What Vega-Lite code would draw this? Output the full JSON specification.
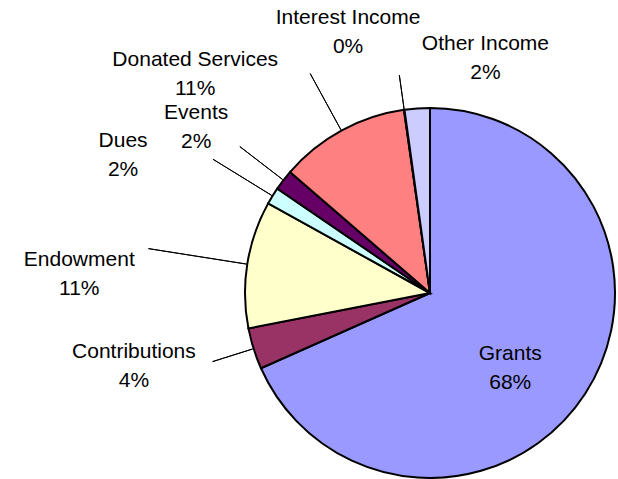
{
  "$schema": "https://vega.github.io/schema/vega-lite/v6.json",
  "autosize": {"type": "none"},
  "width": 376,
  "height": 372,
  "padding": {"left": 242, "top": 107, "right": 0, "bottom": 0},
  "background": "white",
  "config": {
    "view": {"stroke": null},
    "text": {"font": "Liberation Sans", "fontSize": 21, "lineHeight": 29, "align": "center", "baseline": "middle", "lineBreak": "\n", "color": "black"}
  },
  "data": {
    "values": [
      {"order": 1, "name": "Grants", "value": 68.3, "label": "Grants\n68%"},
      {"order": 2, "name": "Contributions", "value": 3.6, "label": "Contributions\n4%"},
      {"order": 3, "name": "Endowment", "value": 11.1, "label": "Endowment\n11%"},
      {"order": 4, "name": "Dues", "value": 1.5, "label": "Dues\n2%"},
      {"order": 5, "name": "Events", "value": 1.8, "label": "Events\n2%"},
      {"order": 6, "name": "Donated Services", "value": 11.4, "label": "Donated Services\n11%"},
      {"order": 7, "name": "Interest Income", "value": 0.05, "label": "Interest Income\n0%"},
      {"order": 8, "name": "Other Income", "value": 2.2, "label": "Other Income\n2%"}
    ]
  },
  "transform": [
    {"stack": "value", "groupby": [], "sort": [{"field": "order", "order": "ascending"}], "as": ["v0", "v1"], "offset": "normalize"},
    {"calculate": "(datum.v0 + datum.v1) / 2", "as": "mid"}
  ],
  "layer": [
    {
      "mark": {"type": "arc", "radius": 185, "stroke": "black", "strokeWidth": 2},
      "encoding": {
        "theta": {"field": "v0", "type": "quantitative", "scale": {"domain": [0, 1]}},
        "theta2": {"field": "v1"},
        "color": {
          "field": "name", "type": "nominal", "legend": null,
          "scale": {
            "domain": ["Grants", "Contributions", "Endowment", "Dues", "Events", "Donated Services", "Interest Income", "Other Income"],
            "range": ["#9999FF", "#993366", "#FFFFCC", "#CCFFFF", "#660066", "#FF8080", "#0066CC", "#CCCCFF"]
          }
        }
      }
    },
    {"transform": [{"filter": "datum.name === 'Contributions'"}], "mark": {"type": "arc", "radius": 186, "radius2": 228, "stroke": "black", "strokeWidth": 1, "fill": "transparent"}, "encoding": {"theta": {"field": "mid", "type": "quantitative"}, "theta2": {"field": "mid"}}},
    {"transform": [{"filter": "datum.name === 'Endowment'"}], "mark": {"type": "arc", "radius": 186, "radius2": 285, "stroke": "black", "strokeWidth": 1, "fill": "transparent"}, "encoding": {"theta": {"field": "mid", "type": "quantitative"}, "theta2": {"field": "mid"}}},
    {"transform": [{"filter": "datum.name === 'Dues'"}], "mark": {"type": "arc", "radius": 186, "radius2": 255, "stroke": "black", "strokeWidth": 1, "fill": "transparent"}, "encoding": {"theta": {"field": "mid", "type": "quantitative"}, "theta2": {"field": "mid"}}},
    {"transform": [{"filter": "datum.name === 'Events'"}], "mark": {"type": "arc", "radius": 186, "radius2": 240, "stroke": "black", "strokeWidth": 1, "fill": "transparent"}, "encoding": {"theta": {"field": "mid", "type": "quantitative"}, "theta2": {"field": "mid"}}},
    {"transform": [{"filter": "datum.name === 'Donated Services'"}], "mark": {"type": "arc", "radius": 186, "radius2": 250, "stroke": "black", "strokeWidth": 1, "fill": "transparent"}, "encoding": {"theta": {"field": "mid", "type": "quantitative"}, "theta2": {"field": "mid"}}},
    {"transform": [{"filter": "datum.name === 'Interest Income'"}], "mark": {"type": "arc", "radius": 186, "radius2": 220, "stroke": "black", "strokeWidth": 1, "fill": "transparent"}, "encoding": {"theta": {"field": "mid", "type": "quantitative"}, "theta2": {"field": "mid"}}},
    {"transform": [{"filter": "datum.name === 'Grants'"}], "mark": {"type": "text", "radius": 110, "dx": -12, "dy": 1}, "encoding": {"theta": {"field": "mid", "type": "quantitative"}, "text": {"field": "label"}}},
    {"transform": [{"filter": "datum.name === 'Contributions'"}], "mark": {"type": "text", "radius": 300, "dx": -10, "dy": -31}, "encoding": {"theta": {"field": "mid", "type": "quantitative"}, "text": {"field": "label"}}},
    {"transform": [{"filter": "datum.name === 'Endowment'"}], "mark": {"type": "text", "radius": 350, "dx": -5, "dy": 22}, "encoding": {"theta": {"field": "mid", "type": "quantitative"}, "text": {"field": "label"}}},
    {"transform": [{"filter": "datum.name === 'Dues'"}], "mark": {"type": "text", "radius": 330, "dx": -26, "dy": 21}, "encoding": {"theta": {"field": "mid", "type": "quantitative"}, "text": {"field": "label"}}},
    {"transform": [{"filter": "datum.name === 'Events'"}], "mark": {"type": "text", "radius": 280, "dx": -12, "dy": -9}, "encoding": {"theta": {"field": "mid", "type": "quantitative"}, "text": {"field": "label"}}},
    {"transform": [{"filter": "datum.name === 'Donated Services'"}], "mark": {"type": "text", "radius": 300, "dx": -91, "dy": 30}, "encoding": {"theta": {"field": "mid", "type": "quantitative"}, "text": {"field": "label"}}},
    {"transform": [{"filter": "datum.name === 'Interest Income'"}], "mark": {"type": "text", "radius": 265, "dx": -45, "dy": -13}, "encoding": {"theta": {"field": "mid", "type": "quantitative"}, "text": {"field": "label"}}},
    {"transform": [{"filter": "datum.name === 'Other Income'"}], "mark": {"type": "text", "radius": 240, "dx": 72, "dy": -10}, "encoding": {"theta": {"field": "mid", "type": "quantitative"}, "text": {"field": "label"}}}
  ]
}
